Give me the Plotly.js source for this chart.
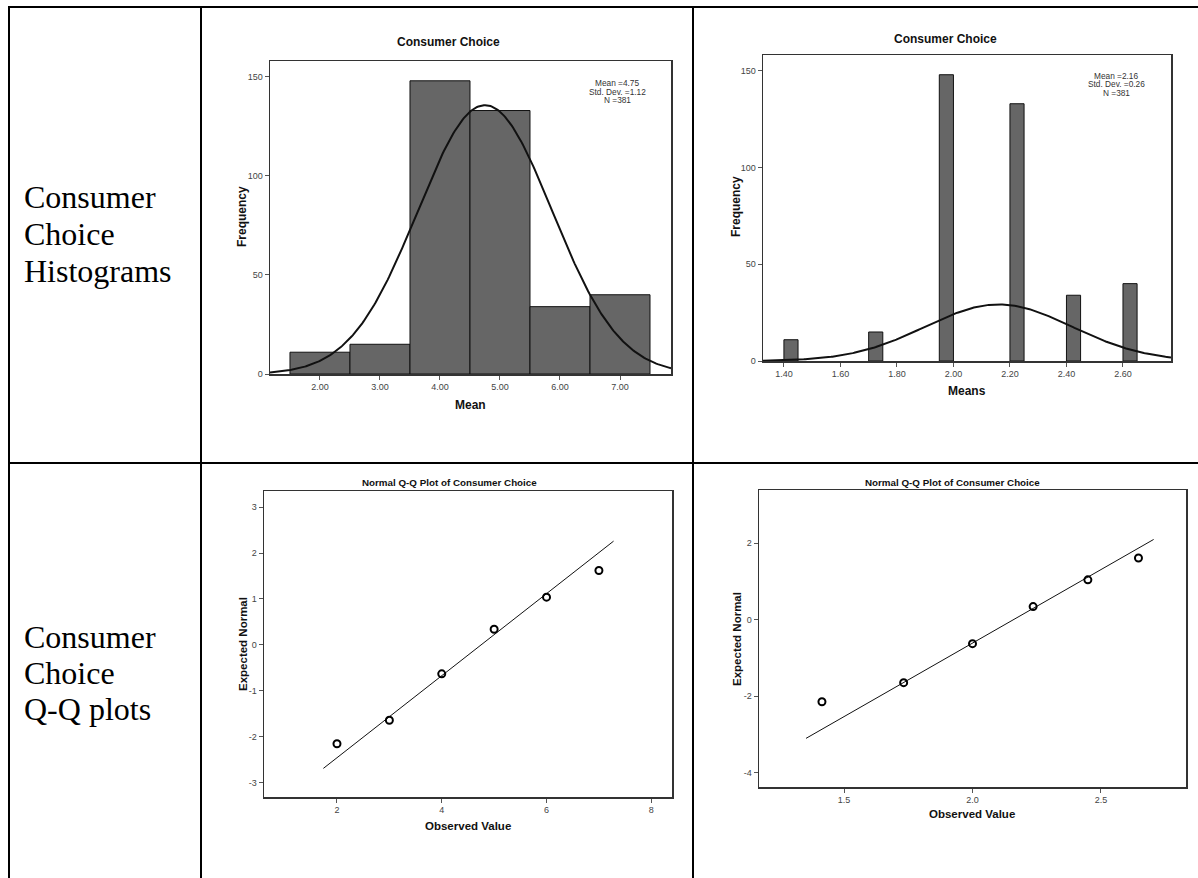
<!DOCTYPE html>
<html><head><meta charset="utf-8">
<script src="https://cdn.plot.ly/plotly-3.0.1.min.js"></script>
<style>html,body{margin:0;padding:0;background:#fff}#chart{width:1198px;height:878px}</style>
</head><body><div id="chart"></div>
<script>
// ---------- data ----------
const rawBins = [2, 3, 4, 5, 6, 7];
const rawCounts = [11, 15, 148, 133, 34, 40];
const rawMean = 4.75, rawSD = 1.12, rawN = 381, rawBinWidth = 1;
const rawTicks = [2, 3, 4, 5, 6, 7];

const sqrtBins = [1.425, 1.725, 1.975, 2.225, 2.425, 2.625];
const sqrtCounts = [11, 15, 148, 133, 34, 40];
const sqrtMean = 2.16, sqrtSD = 0.26, sqrtN = 381, sqrtBinWidth = 0.05;
const sqrtTicks = [1.4, 1.6, 1.8, 2.0, 2.2, 2.4, 2.6];

const qqRawObs = [2, 3, 4, 5, 6, 7];
const qqRawExp = [-2.15, -1.64, -0.63, 0.34, 1.04, 1.62];
const qqRawLineX = [1.74, 7.28];
const qqRawYTicks = [-3, -2, -1, 0, 1, 2, 3];

const qqSqrtObs = [1.414, 1.732, 2.0, 2.236, 2.449, 2.646];
const qqSqrtExp = [-2.15, -1.65, -0.63, 0.34, 1.04, 1.61];
const qqSqrtLineX = [1.352, 2.705];
const qqSqrtYTicks = [-4, -2, 0, 2];

const rowLabels1 = ["Consumer", "Choice", "Histograms"];
const rowLabels2 = ["Consumer", "Choice", "Q-Q plots"];

// ---------- helpers ----------
const W = 1198, H = 878;
const PX = p => p / W, PY = p => 1 - p / H;
function normalCurve(mean, sd, n, bw, x0, x1) {
  const xs = [], ys = [];
  for (let x = x0; x <= x1 + 1e-9; x += (x1 - x0) / 300) {
    xs.push(x);
    ys.push(n * bw / (sd * Math.sqrt(2 * Math.PI)) * Math.exp(-0.5 * Math.pow((x - mean) / sd, 2)));
  }
  return {xs, ys};
}
const SANS = 'Liberation Sans, Arial, Helvetica, sans-serif';
const SERIF = 'Liberation Serif, Times New Roman, serif';
const hyph = arr => arr.map(v => String(v).replace('\u2212', '-'));

function ax(domain, range, anchor, extra) {
  return Object.assign({
    domain, range, anchor, showline: true, mirror: true, linecolor: '#333', linewidth: 1.5,
    ticks: 'outside', ticklen: 4, tickwidth: 1, tickcolor: '#555',
    tickfont: {family: SANS, size: 9, color: '#444'},
    showgrid: false, zeroline: false, fixedrange: true
  }, extra || {});
}

const c1 = normalCurve(rawMean, rawSD, rawN, rawBinWidth, 1.167, 7.85);
const c2 = normalCurve(sqrtMean, sqrtSD, sqrtN, sqrtBinWidth, 1.326, 2.77);

const traces = [
  {type: 'bar', x: rawBins, y: rawCounts, width: rawBinWidth, xaxis: 'x', yaxis: 'y',
   marker: {color: '#666666', line: {color: '#111', width: 1}}, hoverinfo: 'skip'},
  {type: 'scatter', mode: 'lines', x: c1.xs, y: c1.ys, xaxis: 'x', yaxis: 'y',
   line: {color: '#111', width: 2}, hoverinfo: 'skip'},
  {type: 'bar', x: sqrtBins, y: sqrtCounts, width: sqrtBinWidth, xaxis: 'x2', yaxis: 'y2',
   marker: {color: '#666666', line: {color: '#111', width: 1}}, hoverinfo: 'skip'},
  {type: 'scatter', mode: 'lines', x: c2.xs, y: c2.ys, xaxis: 'x2', yaxis: 'y2',
   line: {color: '#111', width: 2}, hoverinfo: 'skip'},
  {type: 'scatter', mode: 'lines', x: qqRawLineX, y: qqRawLineX.map(v => (v - rawMean) / rawSD),
   xaxis: 'x3', yaxis: 'y3', line: {color: '#111', width: 1}, hoverinfo: 'skip'},
  {type: 'scatter', mode: 'markers', x: qqRawObs, y: qqRawExp, xaxis: 'x3', yaxis: 'y3',
   marker: {symbol: 'circle-open', size: 7, color: '#000', line: {width: 2, color: '#000'}}, hoverinfo: 'skip'},
  {type: 'scatter', mode: 'lines', x: qqSqrtLineX, y: qqSqrtLineX.map(v => (v - sqrtMean) / sqrtSD),
   xaxis: 'x4', yaxis: 'y4', line: {color: '#111', width: 1}, hoverinfo: 'skip'},
  {type: 'scatter', mode: 'markers', x: qqSqrtObs, y: qqSqrtExp, xaxis: 'x4', yaxis: 'y4',
   marker: {symbol: 'circle-open', size: 7, color: '#000', line: {width: 2, color: '#000'}}, hoverinfo: 'skip'}
];

const annotations = [];
function txt(text, x, y, size, bold, extra) {
  annotations.push(Object.assign({
    text: bold ? '<b>' + text + '</b>' : text, xref: 'paper', yref: 'paper', x: PX(x), y: PY(y),
    xanchor: 'center', yanchor: 'middle', showarrow: false,
    font: {family: SANS, size: size, color: '#111'}
  }, extra || {}));
}
// chart titles
txt('Consumer Choice', 448, 42, 12, true);
txt('Consumer Choice', 945, 39, 12, true);
txt('Normal Q-Q Plot of Consumer Choice', 449, 483, 9.8, true);
txt('Normal Q-Q Plot of Consumer Choice', 952, 483, 9.8, true);
// axis titles
txt('Frequency', 242, 217, 12, true, {textangle: -90});
txt('Mean', 470, 405, 12, true);
txt('Frequency', 736, 207, 12, true, {textangle: -90});
txt('Means', 967, 391, 12, true);
txt('Expected Normal', 243, 644, 11.5, true, {textangle: -90});
txt('Observed Value', 468, 826, 11.5, true);
txt('Expected Normal', 737, 639, 11.5, true, {textangle: -90});
txt('Observed Value', 972, 814, 11.5, true);
// stats boxes
const statFont = {family: SANS, size: 8.3, color: '#333'};
txt('Mean =' + rawMean.toFixed(2), 617, 83, 8, false, {font: statFont});
txt('Std. Dev. =' + rawSD.toFixed(2), 617, 91.5, 8, false, {font: statFont});
txt('N =' + rawN, 617, 100, 8, false, {font: statFont});
txt('Mean =' + sqrtMean.toFixed(2), 1116, 76, 8, false, {font: statFont});
txt('Std. Dev. =' + sqrtSD.toFixed(2), 1116, 84.5, 8, false, {font: statFont});
txt('N =' + sqrtN, 1116, 93, 8, false, {font: statFont});
// row labels
const r1y = [197, 234, 271], r2y = [637, 673, 709];
rowLabels1.forEach((t, i) => txt(t, 22, r1y[i], 32, false, {xanchor: 'left', font: {family: SERIF, size: 32, color: '#000'}}));
rowLabels2.forEach((t, i) => txt(t, 22, r2y[i], 32, false, {xanchor: 'left', font: {family: SERIF, size: 32, color: '#000'}}));

// table lines
function line(x0, y0, x1, y1, w) {
  return {type: 'line', xref: 'paper', yref: 'paper', x0: PX(x0), y0: PY(y0), x1: PX(x1), y1: PY(y1),
          line: {color: '#000', width: w}};
}
const shapes = [
  line(8, 7, 1198, 7, 2),
  line(9, 6, 9, 878, 2),
  line(201, 6, 201, 878, 2),
  line(693, 6, 693, 878, 2),
  line(8, 463, 1198, 463, 2)
];

const layout = {
  width: W, height: H, margin: {l: 0, r: 0, t: 0, b: 0},
  paper_bgcolor: '#fff', plot_bgcolor: '#fff', showlegend: false, bargap: 0,
  xaxis: ax([PX(270), PX(671)], [1.167, 7.85], 'y', {tickvals: rawTicks, tickformat: '.2f'}),
  yaxis: ax([PY(374), PY(61)], [0, 158], 'x', {tickvals: [0, 50, 100, 150]}),
  xaxis2: ax([PX(763), PX(1171)], [1.326, 2.77], 'y2', {tickvals: sqrtTicks, tickformat: '.2f'}),
  yaxis2: ax([PY(361), PY(55)], [0, 158.2], 'x2', {tickvals: [0, 50, 100, 150]}),
  xaxis3: ax([PX(264), PX(672)], [0.607, 8.395], 'y3', {tickvals: [2, 4, 6, 8]}),
  yaxis3: ax([PY(797), PY(491)], [-3.31, 3.35], 'x3', {tickvals: qqRawYTicks, ticktext: hyph(qqRawYTicks)}),
  xaxis4: ax([PX(759), PX(1186)], [1.169, 2.831], 'y4', {tickvals: [1.5, 2.0, 2.5], tickformat: '.1f'}),
  yaxis4: ax([PY(787), PY(490)], [-4.38, 3.39], 'x4', {tickvals: qqSqrtYTicks, ticktext: hyph(qqSqrtYTicks)}),
  annotations, shapes
};

Plotly.newPlot('chart', traces, layout, {staticPlot: true, displayModeBar: false});
</script>
</body></html>
